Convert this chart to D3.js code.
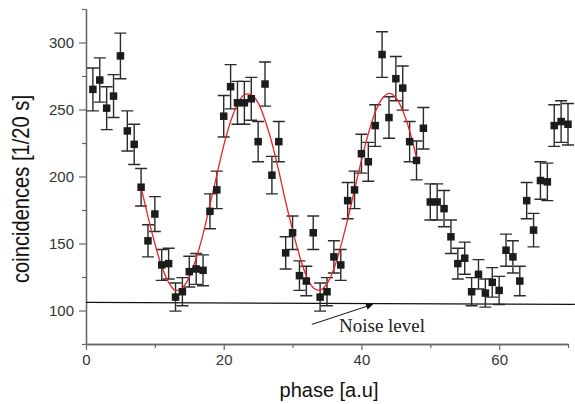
<!DOCTYPE html>
<html>
<head>
<meta charset="utf-8">
<script src="https://cdn.jsdelivr.net/npm/d3@7"></script>
<style>
  body { margin: 0; background: #fff; }
  svg { display: block; }
</style>
</head>
<body>
<div id="chart"></div>
<script>
// measured coincidences, phase 1..70
const phase = d3.range(1, 71);
const counts = [265, 272, 251, 260, 290, 234, 224, 192, 152, 172,
                134, 135, 110, 114, 129, 131, 130, 174, 190, 245,
                267, 255, 255, 258, 226, 269, 201, 226, 143, 158,
                126, 122, 158, 110, 114, 140, 134, 182, 190, 217,
                211, 238, 291, 244, 273, 266, 226, 212, 236, 181,
                181, 176, 155, 135, 139, 114, 127, 113, 121, 115,
                145, 140, 122, 182, 160, 197, 196, 238, 241, 239];
const errors = [16, 16.5, 16, 16, 17, 15, 15, 14, 12, 13,
                11.5, 11.5, 10.5, 10.5, 11.5, 11.5, 11.5, 13, 14, 15.5,
                16.5, 16, 16, 16, 15, 16.5, 14, 15, 12, 12.5,
                11, 11, 12.5, 10.5, 10.5, 12, 11.5, 13.5, 14, 14.5,
                14.5, 15.5, 17, 15.5, 16.5, 16.5, 15, 14.5, 15.5, 13.5,
                13.5, 13.5, 12.5, 11.5, 12, 10.5, 11, 10.5, 11, 10.5,
                12, 12, 11, 13.5, 12.5, 14, 14, 15.5, 15.5, 15.5];

// red fit curve, phase 8..48
const fitPhase = d3.range(8, 49);
const fitCounts = [192, 170, 150, 133, 121, 115, 117, 125, 139, 157,
                   179, 201, 223, 241, 254, 261, 261, 255, 242, 225,
                   204, 181, 160, 141, 126, 117, 115, 120, 131, 148,
                   168, 190, 212, 232, 248, 258, 262, 259, 249, 234, 214];

// noise level line
const noisePhase = [0, 71];
const noiseCounts = [106, 104.6];

const yTicks = [100, 150, 200, 250, 300];
const yMinor = [75, 125, 175, 225, 275, 325];
const xTicks = [0, 20, 40, 60];
const xMinor = [10, 30, 50, 70];

const W = 575, H = 404;
const margin = { top: 9, right: 7, bottom: 60, left: 86 };

const svg = d3.select("#chart").append("svg")
    .attr("width", W)
    .attr("height", H);

const x = d3.scaleLinear().domain([0, 70]).range([margin.left, W - margin.right]);
const y = d3.scaleLinear().domain([75, 325]).range([H - margin.bottom, margin.top]);

const data = phase.map((p, i) => ({ p: p, v: counts[i], e: errors[i] }));
const fit = fitPhase.map((p, i) => ({ p: p, v: fitCounts[i] }));

// axes
const axisColor = "#666";
function styleAxis(g) {
    g.select(".domain").attr("stroke", axisColor).attr("stroke-width", 1.3);
    g.selectAll(".tick line").attr("stroke", axisColor).attr("stroke-width", 1.2);
    g.selectAll(".tick text")
        .attr("fill", "#333")
        .style("font-family", "'Liberation Sans', Arial, sans-serif")
        .style("font-size", "15px");
}

svg.append("g")
    .attr("transform", `translate(${margin.left},0)`)
    .call(d3.axisLeft(y).tickValues(yMinor).tickSize(4).tickFormat("").tickSizeOuter(0))
    .call(styleAxis);

svg.append("g")
    .attr("transform", `translate(${margin.left},0)`)
    .call(d3.axisLeft(y).tickValues(yTicks).tickSize(7).tickPadding(5).tickSizeOuter(0))
    .call(styleAxis);

svg.append("g")
    .attr("transform", `translate(0,${H - margin.bottom})`)
    .call(d3.axisBottom(x).tickValues(xMinor).tickSize(4).tickFormat("").tickSizeOuter(0))
    .call(styleAxis);

svg.append("g")
    .attr("transform", `translate(0,${H - margin.bottom})`)
    .call(d3.axisBottom(x).tickValues(xTicks).tickSize(6).tickPadding(4).tickSizeOuter(0))
    .call(styleAxis);

// axis titles
svg.append("text")
    .attr("transform", `translate(28.5,189) rotate(-90)`)
    .attr("text-anchor", "middle")
    .attr("textLength", 188)
    .attr("lengthAdjust", "spacingAndGlyphs")
    .style("font-family", "'Liberation Sans', Arial, sans-serif")
    .style("font-size", "24px")
    .attr("fill", "#111")
    .text("coincidences [1/20 s]");

svg.append("text")
    .attr("x", (margin.left + W - margin.right) / 2 + 2)
    .attr("y", 397)
    .attr("text-anchor", "middle")
    .style("font-family", "'Liberation Sans', Arial, sans-serif")
    .style("font-size", "20px")
    .attr("fill", "#111")
    .text("phase [a.u]");

// noise level line
const noiseLine = d3.line().x(d => x(d[0])).y(d => y(d[1]));
svg.append("path")
    .datum(noisePhase.map((p, i) => [p, noiseCounts[i]]))
    .attr("d", noiseLine)
    .attr("fill", "none")
    .attr("stroke", "#111")
    .attr("stroke-width", 1.2);

// error bars
const cap = 6;
const bars = svg.append("g")
    .attr("stroke", "#2b2b2b")
    .attr("stroke-width", 1.4)
    .attr("fill", "none");

bars.selectAll(".err")
    .data(data)
    .join("path")
    .attr("class", "err")
    .attr("d", d => {
        const cx = x(d.p), y1 = y(d.v + d.e), y0 = y(d.v - d.e);
        return `M${cx - cap},${y1}H${cx + cap}M${cx},${y1}V${y0}M${cx - cap},${y0}H${cx + cap}`;
    });

// fit curve
const fitLine = d3.line()
    .x(d => x(d.p))
    .y(d => y(d.v))
    .curve(d3.curveCatmullRom);

svg.append("path")
    .datum(fit)
    .attr("d", fitLine)
    .attr("fill", "none")
    .attr("stroke", "#e8232b")
    .attr("stroke-width", 1.3);

// markers
const sq = 7.5;
svg.append("g")
    .selectAll("rect")
    .data(data)
    .join("rect")
    .attr("x", d => x(d.p) - sq / 2)
    .attr("y", d => y(d.v) - sq / 2)
    .attr("width", sq)
    .attr("height", sq)
    .attr("fill", "#1c1c1c");

// annotation arrow
const arrowFrom = [32.8, 89.6], arrowTo = [41.6, 104.5];
svg.append("defs").append("marker")
    .attr("id", "head")
    .attr("viewBox", "0 0 10 10")
    .attr("refX", 9)
    .attr("refY", 5)
    .attr("markerWidth", 10)
    .attr("markerHeight", 7)
    .attr("markerUnits", "userSpaceOnUse")
    .attr("orient", "auto")
    .append("path")
    .attr("d", "M0,0L10,5L0,10z")
    .attr("fill", "#111");

svg.append("line")
    .attr("x1", x(arrowFrom[0]))
    .attr("y1", y(arrowFrom[1]))
    .attr("x2", x(arrowTo[0]))
    .attr("y2", y(arrowTo[1]))
    .attr("stroke", "#111")
    .attr("stroke-width", 1)
    .attr("marker-end", "url(#head)");

svg.append("text")
    .attr("x", 339)
    .attr("y", 331.5)
    .style("font-family", "'Liberation Serif', 'Times New Roman', serif")
    .style("font-size", "19px")
    .attr("fill", "#222")
    .text("Noise level");
</script>
</body>
</html>
